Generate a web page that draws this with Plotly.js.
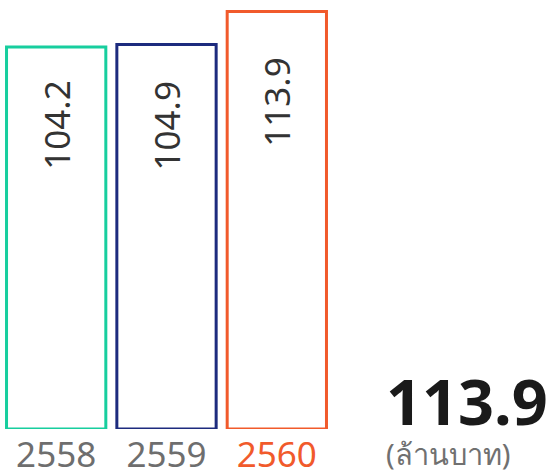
<!DOCTYPE html>
<html>
<head>
<meta charset="utf-8">
<script src="https://cdn.plot.ly/plotly-3.0.1.min.js"></script>
<style>html,body{margin:0;padding:0;background:#fff;}#chart{width:551px;height:473px;}</style>
</head>
<body>
<div id="chart"></div>
<script>
const years = ['2558', '2559', '2560'];
const values = [104.2, 104.9, 113.9];
const barColors = ['#17CE9E', '#1D2B7E', '#F15A2B'];
const tickColors = ['#6E6E6E', '#6E6E6E', '#F15A2B'];
const unitLabel = '(ล้านบาท)';
const labelShift = [-32, -35, -44];

const xs = years.map((_, i) => i);
const FONT = '"Noto Sans", "Open Sans", sans-serif';

const trace = {
  type: 'bar',
  x: xs,
  y: values,
  width: 0.9,
  marker: { color: 'rgba(255,255,255,1)', line: { color: barColors, width: 3 } },
  hoverinfo: 'none',
  cliponaxis: false
};

const annotations = values.map((v, i) => ({
  x: i, y: v, xref: 'x', yref: 'y',
  text: v.toFixed(1), textangle: -90, showarrow: false,
  yanchor: 'top', xanchor: 'center', yshift: labelShift[i],
  font: { family: FONT, size: 35, color: '#333333' }
}));

annotations.push({
  xref: 'paper', yref: 'paper', x: 1.158, y: 0.068, xanchor: 'left', yanchor: 'middle',
  text: '<b>' + values[values.length - 1].toFixed(1) + '</b>', showarrow: false,
  font: { family: FONT, size: 63, color: '#1a1a1a' }
});
annotations.push({
  xref: 'paper', yref: 'paper', x: 1.158, y: -0.058, xanchor: 'left', yanchor: 'middle',
  text: unitLabel, showarrow: false,
  font: { family: FONT, size: 29, color: '#707070' }
});

const layout = {
  width: 551, height: 473,
  margin: { l: 1, r: 219, t: 10, b: 44 },
  paper_bgcolor: '#fff', plot_bgcolor: '#fff',
  showlegend: false,
  xaxis: {
    range: [-0.5, 2.5], tickvals: xs,
    ticktext: years.map((y, i) => '<span style="color:' + tickColors[i] + '">' + y + '</span>'),
    showgrid: false, zeroline: false, showline: false, ticks: '',
    ticklabelstandoff: 2,
    tickfont: { family: FONT, size: 35, color: '#6E6E6E' }, fixedrange: true
  },
  yaxis: { range: [0, 114.3], visible: false, fixedrange: true },
  annotations: annotations
};

Plotly.newPlot('chart', [trace], layout, { displayModeBar: false, staticPlot: true });
</script>
</body>
</html>
